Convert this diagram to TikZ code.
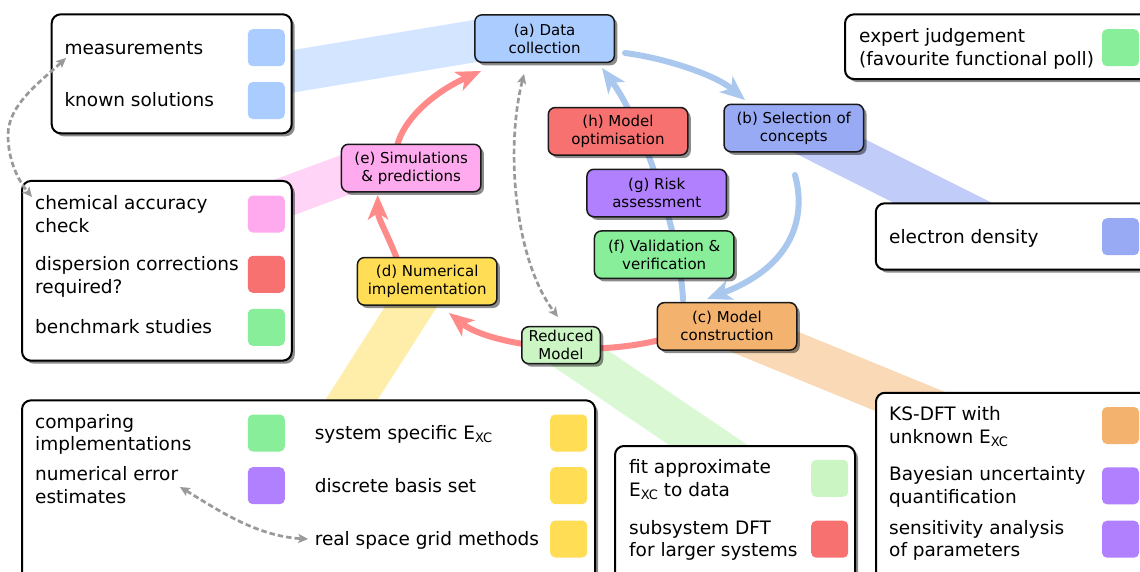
\documentclass[tikz,border=0pt]{standalone}
\usepackage{fontspec}
\setmainfont{DejaVu Sans}
\usetikzlibrary{arrows.meta,shadows,calc}
\pgfdeclarelayer{bands}
\pgfdeclarelayer{flow}
\pgfsetlayers{bands,flow,main}
\definecolor{colA}{HTML}{AACCFF}
\definecolor{colB}{HTML}{99AAF5}
\definecolor{colC}{HTML}{F4B26F}
\definecolor{colD}{HTML}{FFDD55}
\definecolor{colE}{HTML}{FFAAEE}
\definecolor{colF}{HTML}{88EE99}
\definecolor{colG}{HTML}{B080FF}
\definecolor{colH}{HTML}{F87171}
\definecolor{colRM}{HTML}{CCF5C4}
\definecolor{redArr}{HTML}{FF8A8A}
\definecolor{blueArr}{HTML}{AAC8EE}
\definecolor{grayArr}{HTML}{999999}
\newcommand\procfont{\fontsize{15}{18}\selectfont}
\newcommand\legfont{\fontsize{18.5}{22.7}\selectfont}
\newcommand\Exc{E\raisebox{-3.5pt}{\fontsize{13}{13}\selectfont XC}}
\newcommand\twol[2]{\parbox[t]{300pt}{#1\\#2}}
\tikzset{
  shad/.style={drop shadow={shadow xshift=3pt,shadow yshift=-3pt,fill=black,opacity=0.45}},
  proc/.style={shad,draw=black!90,line width=1.5pt,rounded corners=7pt,minimum width=139.5pt,minimum height=47.5pt,align=center,font=\procfont,inner sep=2pt},
  legbox/.style={shad,draw=black,line width=2pt,rounded corners=9pt,fill=white,inner sep=0pt},
  sq/.style={rounded corners=5pt,minimum size=37pt,inner sep=0pt},
  lt/.style={anchor=base west,inner sep=0pt,font=\legfont},
  band/.style={line width=43pt,line cap=butt},
  flowarrow/.style={line width=6pt,line cap=round,-{Stealth[length=25pt,width=21pt,inset=7pt,line width=0pt]}},
  redflow/.style={flowarrow,draw=redArr},
  blueflow/.style={flowarrow,draw=blueArr},
  redline/.style={line width=6pt,draw=redArr},
  graydash/.style={draw=grayArr,line width=2.7pt,dash pattern=on 5.5pt off 3pt,{Stealth[length=10pt,width=9.5pt,inset=2.5pt,line width=0pt]}-{Stealth[length=10pt,width=9.5pt,inset=2.5pt,line width=0pt]}},
}
\begin{document}
\begin{tikzpicture}[x=1pt,y=-1pt]
\useasboundingbox (0,0) rectangle (1140,571);
\clip (0,0) rectangle (1140,571);

% legend boxes
\node[legbox,minimum width=240pt,minimum height=119pt] (L1) at (171.7,73.8) {};
\node[legbox,minimum width=269.7pt,minimum height=179.7pt] (L2) at (156.9,270.8) {};
\node[legbox,minimum width=573pt,minimum height=218.7pt] (L3) at (308.5,509.7) {};
\node[legbox,minimum width=240pt,minimum height=173pt] (L4) at (735,532.5) {};
\node[legbox,minimum width=303pt,minimum height=226.3pt] (L5) at (1027.5,505.9) {};
\node[legbox,minimum width=334pt,minimum height=64.7pt] (L6) at (1012,46.7) {};
\node[legbox,minimum width=303.3pt,minimum height=66.4pt] (L7) at (1027.4,236.5) {};

% legend squares
\node[sq,fill=colA] (s1) at (266.3,47.7) {};
\node[sq,fill=colA] (s2) at (266.3,100.5) {};
\node[sq,fill=colE] (s3) at (266.3,214) {};
\node[sq,fill=colH] (s4) at (266.3,274.3) {};
\node[sq,fill=colF] (s5) at (266.3,327.3) {};
\node[sq,fill=colF] (s6) at (266.3,433) {};
\node[sq,fill=colG] (s7) at (266.3,485.7) {};
\node[sq,fill=colD] (s8) at (568.7,433) {};
\node[sq,fill=colD] (s9) at (568.7,485.7) {};
\node[sq,fill=colD] (s10) at (568.7,539) {};
\node[sq,fill=colRM] (s11) at (829.7,478.3) {};
\node[sq,fill=colH] (s12) at (829.7,539.2) {};
\node[sq,fill=colC] (s13) at (1120.5,425.5) {};
\node[sq,fill=colG] (s14) at (1120.5,485.8) {};
\node[sq,fill=colG] (s15) at (1120.5,539.2) {};
\node[sq,fill=colF] (s16) at (1120.5,47.7) {};
\node[sq,fill=colB] (s17) at (1120.5,236.7) {};

% legend texts
\node[lt] (tmeas) at (64.3,54) {measurements};
\node[lt] (tknown) at (64.3,106.7) {known solutions};
\node[lt] (tchem) at (35,209.5) {\twol{chemical accuracy}{check}};
\node[lt] (tdisp) at (35,270.5) {\twol{dispersion corrections}{required?}};
\node[lt] (tbench) at (35,333.5) {benchmark studies};
\node[lt] (tcomp) at (35,428) {\twol{comparing}{implementations}};
\node[lt] (tnum) at (35,480.7) {\twol{numerical error}{estimates}};
\node[lt] (tsys) at (314.6,439.3) {system specific \Exc};
\node[lt] (tbasis) at (314.6,492.5) {discrete basis set};
\node[lt] (tgrid) at (314.6,545) {real space grid methods};
\node[lt] (tfit) at (629,473.3) {\twol{fit approximate}{\Exc{} to data}};
\node[lt] (tsub) at (629,534) {\twol{subsystem DFT}{for larger systems}};
\node[lt] (tks) at (889,420.5) {\twol{KS-DFT with}{unknown \Exc}};
\node[lt] (tbay) at (889,480.5) {\twol{Bayesian uncertainty}{quantification}};
\node[lt] (tsens) at (889,534) {\twol{sensitivity analysis}{of parameters}};
\node[lt] (texp) at (859,42.7) {\twol{expert judgement}{(favourite functional poll)}};
\node[lt] (telec) at (889,243.3) {electron density};

% process nodes
\node[proc,fill=colA] (a) at (544.6,38.6) {(a) Data\\collection};
\node[proc,fill=colB] (b) at (793.8,128) {(b) Selection of\\concepts};
\node[proc,fill=colC] (c) at (727,326.4) {(c) Model\\construction};
\node[proc,fill=colD] (d) at (427.2,281.3) {(d) Numerical\\implementation};
\node[proc,fill=colE] (e) at (411.2,168) {(e) Simulations\\\& predictions};
\node[proc,fill=colF] (f) at (664.2,254.7) {(f) Validation \&\\verification};
\node[proc,fill=colG] (g) at (656.7,193) {(g) Risk\\assessment};
\node[proc,fill=colH] (h) at (618,131.3) {(h) Model\\optimisation};
\node[proc,fill=colRM,minimum width=78.5pt,minimum height=37pt] (rm) at (561,345.2) {Reduced\\Model};

% bands
\coordinate (bA1) at (260,76.8);
\coordinate (bA2) at (500,36.9);
\coordinate (bE1) at (260,206.3);
\coordinate (bE2) at (360,169.3);
\coordinate (bD) at (325.8,440);
\coordinate (bB) at (1000,231.5);
\coordinate (bC) at (960,421.9);
\coordinate (bR) at (740,466.5);
\begin{pgfonlayer}{bands}
\draw[band,draw=colA!50!white,line width=42pt] (bA1) -- (bA2);
\draw[band,draw=colE!50!white,line width=40pt] (bE1) -- (bE2);
\draw[band,draw=colD!50!white,line width=44pt] (d.center) -- (bD);
\draw[band,draw=colB!60!white,line width=44pt] (b.center) -- (bB);
\draw[band,draw=colC!50!white,line width=44pt] (c.center) -- (bC);
\draw[band,draw=colRM!75!white,line width=44pt] (rm.center) -- (bR);
\end{pgfonlayer}

% flow arrows
\begin{pgfonlayer}{flow}
\draw[redflow] ($(e.center)+(-14.2,-22)$) .. controls (404,118) and (435,92) .. ($(a.center)+(-63.6,32.4)$);
\draw[redflow] ($(d.center)+(-30.2,-22.3)$) .. controls (390,240) and (378,218) .. ($(e.center)+(-33.5,27)$);
\draw[redline] ($(c.center)+(-67,13.6)$) .. controls (630,347) and (600,350) .. ($(rm.center)+(0,2.8)$);
\draw[redflow] ($(rm.center)+(0,2.8)$) .. controls (520,346) and (478,336) .. ($(d.center)+(21.8,31.7)$);
\draw[blueflow] ($(a.center)+(80.4,14.4)$) .. controls (665,58) and (715,75) .. ($(b.center)+(-48.8,-28)$);
\draw[blueflow] ($(b.center)+(1.2,47)$) .. controls (806,215) and (795,265) .. ($(c.center)+(-20,-27.4)$);
\draw[blueflow] ($(c.center)+(-44,-26.4)$) .. controls (680,230) and (640,120) .. ($(a.center)+(57.4,29.4)$);
\end{pgfonlayer}

% gray dashed arrows
\draw[graydash] ($(a.center)+(-20.6,35.4)$) .. controls (505,150) and (515,260) .. ($(rm.center)+(-3,-28.2)$);
\coordinate (gmid) at (8,135);
\draw[graydash] ($(tmeas.base west)+(1.7,4)$) .. controls (40,82) and (8,105) .. (gmid) .. controls (8,160) and (18,180) .. ($(tchem.base west)+(-3,-12.5)$);
\draw[graydash] ($(tnum.base west)+(145,6.3)$) .. controls (215,508) and (255,536) .. ($(tgrid.base west)+(-6.6,-6)$);
\end{tikzpicture}
\end{document}
